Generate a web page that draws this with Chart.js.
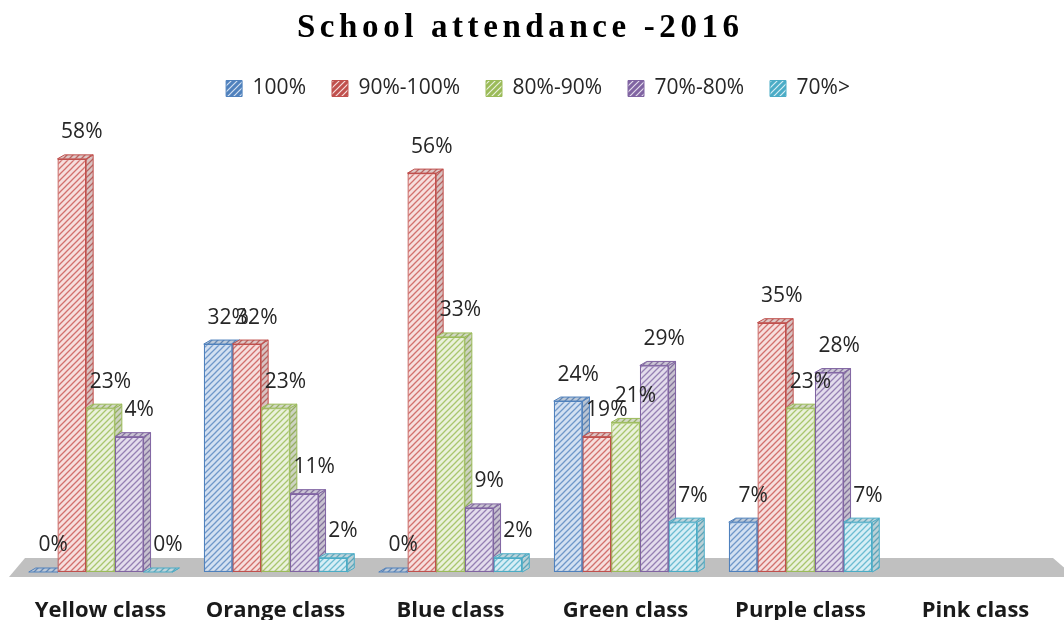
<!DOCTYPE html>
<html>
<head>
<meta charset="utf-8">
<title>School attendance -2016</title>
<script src="https://cdn.jsdelivr.net/npm/chart.js@4.4.1/dist/chart.umd.min.js"></script>
<style>
  html, body { margin: 0; padding: 0; background: #fff; }
  #wrap { width: 1064px; height: 620px; }
</style>
</head>
<body>
<div id="wrap"><canvas id="attendanceChart" width="1064" height="620"></canvas></div>
<script>
// Categories and series
const classes = ['Yellow class', 'Orange class', 'Blue class', 'Green class', 'Purple class', 'Pink class'];
const seriesNames = ['100%', '90%-100%', '80%-90%', '70%-80%', '70%>'];

const att100 = [0, 32, 0, 24, 7, null];
const att90to100 = [58, 32, 56, 19, 35, null];
const att80to90 = [23, 23, 33, 21, 23, null];
const att70to80 = [19, 11, 9, 29, 28, null]; // bar heights as drawn
const attBelow70 = [0, 2, 2, 7, 7, null];

// the original prints "4%" on the yellow 70-80 bar although it stands near 19
const labels70to80 = ['4%', '11%', '9%', '29%', '28%', ''];

const borderColors = ['#4f81bd', '#c0504d', '#9bbb59', '#8064a2', '#4bacc6'];
const fillColors = ['#d3e0f1', '#f6dedd', '#eaf1dc', '#e3dcec', '#d6eef5'];
const stripeColors = ['#6f97c9', '#d2706d', '#a9c66e', '#9580b3', '#6cbcd2'];

function makeHatch(bg, line, lw) {
  const c = document.createElement('canvas');
  c.width = 6;
  c.height = 6;
  const g = c.getContext('2d');
  g.fillStyle = bg;
  g.fillRect(0, 0, 6, 6);
  g.strokeStyle = line;
  g.lineWidth = lw;
  g.beginPath();
  g.moveTo(0, 6); g.lineTo(6, 0);
  g.moveTo(-1, 1); g.lineTo(1, -1);
  g.moveTo(5, 7); g.lineTo(7, 5);
  g.stroke();
  return g.createPattern(c, 'repeat');
}

const hatches = fillColors.map((c, i) => makeHatch(c, stripeColors[i], 1.3));
// legend keys look darker in the original
const legendHatches = borderColors.map((c, i) => makeHatch(c, fillColors[i], 1.2));
const seriesValues = [att100, att90to100, att80to90, att70to80, attBelow70];

const datasets = seriesValues.map((vals, i) => ({
  label: seriesNames[i],
  data: vals,
  backgroundColor: hatches[i],
  borderColor: borderColors[i],
  borderWidth: 1.3,
  borderSkipped: false,
  printed: i === 3 ? labels70to80 : vals.map(v => v === null ? '' : v + '%')
}));

const DX = 7, DY = 4; // fake 3D depth

// floor + side/top faces, drawn under the bars
const threeD = {
  id: 'threeD',
  beforeDatasetsDraw(chart) {
    const ctx = chart.ctx;
    const area = chart.chartArea;
    const base = chart.scales.y.getPixelForValue(0);

    ctx.save();
    ctx.fillStyle = '#c0c0c0';
    ctx.beginPath();
    ctx.moveTo(area.left - 4, base + 5);
    ctx.lineTo(area.right + 12, base + 5);
    ctx.lineTo(area.right - 10, base - 14);
    ctx.lineTo(area.left + 12, base - 14);
    ctx.closePath();
    ctx.fill();

    for (let i = 0; i < classes.length; i++) {
      chart.data.datasets.forEach((ds, d) => {
        if (ds.data[i] === null) return;
        const el = chart.getDatasetMeta(d).data[i];
        const { x, y, width } = el.getProps(['x', 'y', 'width'], true);
        const left = x - width / 2, right = x + width / 2;

        // side face
        ctx.beginPath();
        ctx.moveTo(right, y);
        ctx.lineTo(right + DX, y - DY);
        ctx.lineTo(right + DX, base - DY);
        ctx.lineTo(right, base);
        ctx.closePath();
        ctx.fillStyle = ds.backgroundColor;
        ctx.fill();
        ctx.fillStyle = 'rgba(0,0,0,0.12)';
        ctx.fill();
        ctx.strokeStyle = ds.borderColor;
        ctx.lineWidth = 1;
        ctx.stroke();

        // top face
        ctx.beginPath();
        ctx.moveTo(left, y);
        ctx.lineTo(left + DX, y - DY);
        ctx.lineTo(right + DX, y - DY);
        ctx.lineTo(right, y);
        ctx.closePath();
        ctx.fillStyle = ds.backgroundColor;
        ctx.fill();
        ctx.fillStyle = 'rgba(0,0,0,0.1)';
        ctx.fill();
        ctx.stroke();
      });
    }
    ctx.restore();
  }
};

const valueLabels = {
  id: 'valueLabels',
  afterDatasetsDraw(chart) {
    const ctx = chart.ctx;
    ctx.save();
    ctx.font = '21px "Open Sans"';
    ctx.fillStyle = '#262626';
    ctx.textAlign = 'center';
    ctx.textBaseline = 'bottom';
    chart.data.datasets.forEach((ds, d) => {
      chart.getDatasetMeta(d).data.forEach((el, i) => {
        if (ds.data[i] === null) return;
        ctx.fillText(ds.printed[i], el.x + 10, el.y - 16);
      });
    });
    ctx.restore();
  }
};

const spacedTitle = {
  id: 'spacedTitle',
  afterDraw(chart) {
    const ctx = chart.ctx;
    ctx.save();
    ctx.font = 'bold 33px "Liberation Serif"';
    ctx.letterSpacing = '4.6px';
    ctx.fillStyle = '#000';
    ctx.textBaseline = 'middle';
    const text = 'School attendance -2016';
    const w = ctx.measureText(text).width;
    ctx.fillText(text, 518 - w / 2 + 2.3, 28);
    ctx.restore();
  }
};

new Chart(document.getElementById('attendanceChart'), {
  type: 'bar',
  data: { labels: classes, datasets: datasets },
  options: {
    responsive: false,
    animation: false,
    layout: { padding: { top: 52, left: 13, right: 1, bottom: 0 } },
    datasets: { bar: { categoryPercentage: 0.82, barPercentage: 1.0 } },
    scales: {
      x: {
        grid: { display: false, drawTicks: false },
        border: { display: false },
        afterFit(scale) { scale.height = 48; },
        ticks: {
          color: '#1a1a1a',
          padding: 26,
          font: { family: 'Open Sans', size: 22, weight: 'bold' }
        }
      },
      y: { display: false, min: 0, max: 65 }
    },
    plugins: {
      legend: {
        position: 'top',
        labels: {
          boxWidth: 16,
          boxHeight: 16,
          padding: 26,
          color: '#262626',
          font: { family: 'Open Sans', size: 21 },
          generateLabels(chart) {
            return chart.data.datasets.map((ds, i) => ({
              text: ds.label,
              fillStyle: legendHatches[i],
              strokeStyle: ds.borderColor,
              lineWidth: 1,
              fontColor: '#262626',
              hidden: false,
              datasetIndex: i
            }));
          }
        }
      },
      tooltip: { enabled: false }
    }
  },
  plugins: [threeD, valueLabels, spacedTitle]
});
</script>
</body>
</html>
